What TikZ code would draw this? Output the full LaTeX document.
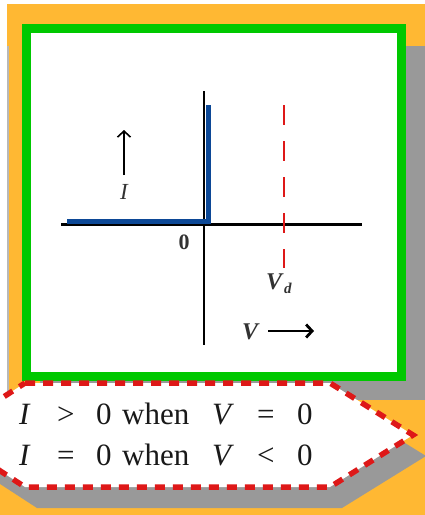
\documentclass[tikz,border=0pt]{standalone}
\usepackage{fontspec}
\setmainfont{Liberation Serif}
\usetikzlibrary{arrows.meta}
\definecolor{bgorange}{RGB}{255,184,51}
\definecolor{shadowgray}{RGB}{153,153,153}
\definecolor{boxgreen}{RGB}{0,200,0}
\definecolor{curveblue}{RGB}{12,72,150}
\definecolor{dashred}{RGB}{222,24,24}
\definecolor{labelgray}{RGB}{50,50,50}
\definecolor{textdark}{RGB}{25,25,25}
\tikzset{
  axisline/.style={black},
  graphlabel/.style={inner sep=0pt, text=labelgray, font=\fontsize{23}{23}\selectfont\itshape},
  condline/.style={anchor=base west, inner sep=0pt, text=textdark, font=\fontsize{31}{31}\selectfont},
  axisarrow/.style={-{Straight Barb[length=6pt,width=13pt]}, black},
}
\begin{document}
\begin{tikzpicture}[x=1pt,y=-1pt]
\useasboundingbox (0,0) rectangle (425,515);
\clip (0,0) rectangle (425,515);
% background
\fill[bgorange] (7,4) rectangle (425,515);
\fill[bgorange] (0,478) rectangle (7,515);
\fill[shadowgray!70] (7,46) rectangle (8.5,398);
% shadow of the green box
\fill[shadowgray] (40,46) rectangle (430,400);
% shadow of the callout
\fill[shadowgray] (37,404) -- (342,404) -- (426,456) -- (342,508) -- (37,508) -- (-43,456) -- cycle;
% green frame
\draw[boxgreen, line width=9pt, fill=white] (26.5,28.5) rectangle (401.5,376.5);
% axes
\coordinate (vtop) at (204,91);
\coordinate (vbot) at (204,345);
\coordinate (hleft) at (61,224);
\coordinate (hright) at (362,224);
\draw[axisline, line width=1.5pt] (vtop) -- (vbot);
\draw[axisline, line width=3pt] (hleft) -- (hright);
% characteristic
\coordinate (bstart) at (67,221.5);
\coordinate (bcorner) at (208.5,221.5);
\coordinate (bend) at (208.5,105);
\draw[curveblue, line width=5.5pt, line join=miter] (bstart) -- (bcorner) -- (bend);
% Vd dashed line
\coordinate (rtop) at (284,105);
\coordinate (rbot) at (284,268);
\draw[dashred, line width=1.6pt, dash pattern=on 20pt off 16pt] (rtop) -- (rbot);
% labels
\node[graphlabel] (ilabel) at (124,192) {I};
\coordinate (iarrowlow) at (124,175);
\coordinate (iarrowtop) at (124,130);
\draw[axisarrow, line width=1.6pt] (iarrowlow) -- (iarrowtop);
\node[inner sep=0pt, text=labelgray, font=\fontsize{22}{22}\selectfont\bfseries] (zero) at (184,242) {0};
\node[anchor=base west, inner sep=0pt, text=labelgray, font=\fontsize{24}{24}\selectfont\bfseries\itshape] (vd) at (266,289) {V\kern2pt\raisebox{-4pt}{\fontsize{15}{15}\selectfont d}};
\node[anchor=base west, inner sep=0pt, text=labelgray, font=\fontsize{24}{24}\selectfont\bfseries\itshape] (vlabel) at (242,339) {V};
\coordinate (varrowstart) at (268,331);
\coordinate (varrowend) at (314,331);
\draw[axisarrow, line width=2.8pt] (varrowstart) -- (varrowend);
% callout
\draw[dashred, line width=5.5pt, dash pattern=on 10pt off 8pt, fill=white]
  (25,383) -- (330,383) -- (413,435) -- (330,487) -- (25,487) -- (-55,435) -- cycle;
\node[condline] (line1) at (19,424) {\makebox[38pt][l]{\textit{I}}\makebox[39pt][l]{>}\makebox[26pt][l]{0}\makebox[90pt][l]{when}\makebox[45pt][l]{\textit{V}}\makebox[40pt][l]{=}0};
\node[condline] (line2) at (19,465) {\makebox[38pt][l]{\textit{I}}\makebox[39pt][l]{=}\makebox[26pt][l]{0}\makebox[90pt][l]{when}\makebox[45pt][l]{\textit{V}}\makebox[40pt][l]{<}0};
\end{tikzpicture}
\end{document}
